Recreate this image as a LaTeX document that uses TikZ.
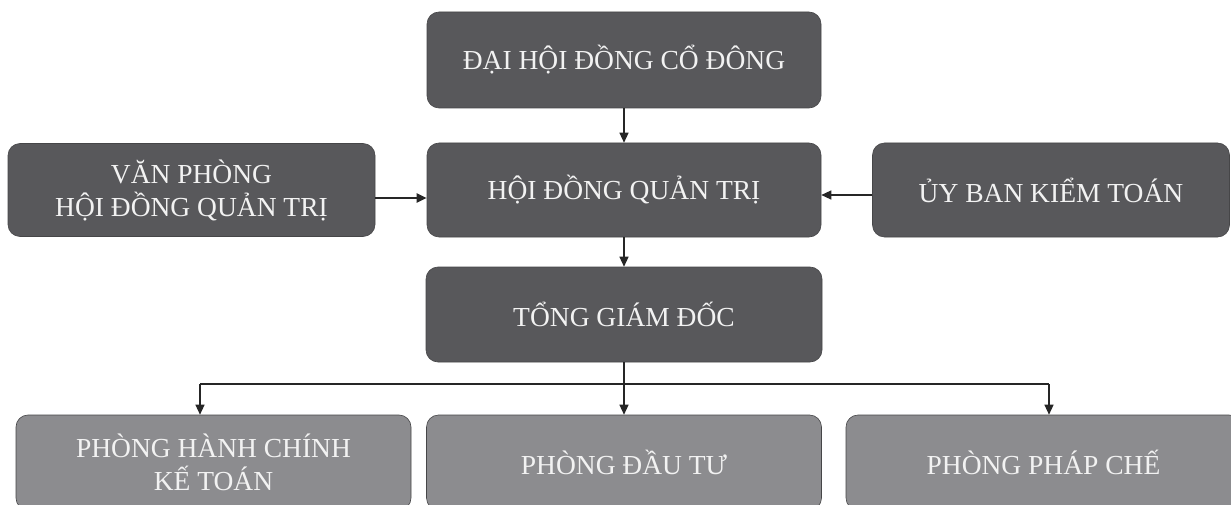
\documentclass[tikz,border=0pt]{standalone}
\usepackage{fontspec}
\setmainfont{Liberation Serif}
\usetikzlibrary{arrows.meta}
\definecolor{darkbox}{RGB}{88,88,91}
\definecolor{lightbox}{RGB}{140,140,143}
\definecolor{boxedge}{RGB}{70,70,72}
\definecolor{boxtext}{RGB}{242,242,242}
\begin{document}
\begin{tikzpicture}[x=1pt,y=-1pt,
  orgbox/.style={rectangle, rounded corners=12pt, draw=boxedge, line width=0.6pt,
    text=boxtext, align=center, inner sep=0pt,
    font=\fontsize{27.5}{33}\selectfont},
  darkunit/.style={orgbox, fill=darkbox},
  lightunit/.style={orgbox, fill=lightbox},
  link/.style={line width=1.3pt, draw=black!85},
  arr/.style={link, -{Triangle[length=10pt,width=9pt]}},
  thickarr/.style={arr, line width=2.2pt}
]
\useasboundingbox (0,0) rectangle (1231,505);
\clip (0,0) rectangle (1231,505);
\fill[white] (0,0) rectangle (1231,505);

\node[darkunit, minimum width=394pt, minimum height=96pt] (dhd) at (624,60) {ĐẠI HỘI ĐỒNG CỔ ĐÔNG};
\node[darkunit, minimum width=394pt, minimum height=94pt] (hdqt) at (624,190) {HỘI ĐỒNG QUẢN TRỊ};
\node[darkunit, minimum width=367pt, minimum height=93pt] (vp) at (191.5,190) {VĂN PHÒNG\\HỘI ĐỒNG QUẢN TRỊ};
\node[darkunit, minimum width=357pt, minimum height=94pt] (ub) at (1051,190) {ỦY BAN KIỂM TOÁN};
\node[darkunit, minimum width=396pt, minimum height=95pt] (tgd) at (624,314.5) {TỔNG GIÁM ĐỐC};

\node[lightunit, minimum width=395pt, minimum height=95pt] (b1) at (213.5,462.5) {PHÒNG HÀNH CHÍNH\\KẾ TOÁN};
\node[lightunit, minimum width=395pt, minimum height=95pt] (b2) at (624,462.5) {PHÒNG ĐẦU TƯ};
\node[lightunit, minimum width=395pt, minimum height=95pt] (b3) at (1043.5,462.5) {PHÒNG PHÁP CHẾ};

\draw[arr] (dhd.south) -- (hdqt.north);
\draw[arr] (hdqt.south) -- (tgd.north);
\draw[thickarr] ([yshift=-8pt]vp.east) -- ([yshift=-8pt]hdqt.west);
\draw[arr] ([yshift=-5pt]ub.west) -- ([yshift=-5pt]hdqt.east);

\coordinate (busL) at (200,384);
\coordinate (busR) at (1049,384);
\draw[link] (busL) -- (busR);
\draw[arr] (busL) -- (busL |- b1.north);
\draw[arr] (busR) -- (busR |- b3.north);
\draw[arr] (tgd.south) -- (b2.north);
\end{tikzpicture}
\end{document}
